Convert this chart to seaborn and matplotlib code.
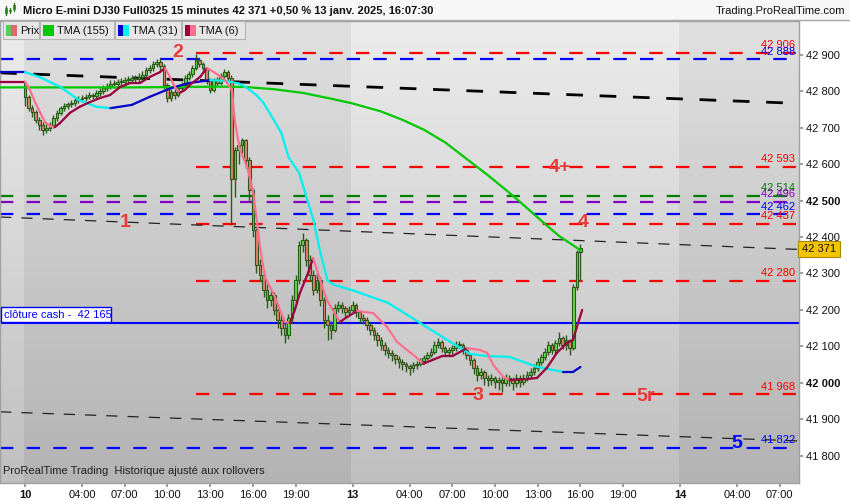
import matplotlib
matplotlib.use("Agg")
import matplotlib.pyplot as plt
from matplotlib.collections import LineCollection
from matplotlib.patches import Rectangle
import numpy as np
import pandas as pd
import seaborn as sns

# ---------------- data ----------------
# 15 min bars, bar 0 = 10 janv 00:00, bar 92 = 13 janv 00:00
opens = [
    42823, 42785, 42754, 42743, 42721, 42708, 42694, 42700, 42708, 42727,
    42741, 42754, 42760, 42765, 42768, 42776, 42779, 42782, 42785, 42790,
    42787, 42796, 42801, 42809, 42815, 42820, 42820, 42826, 42826, 42831,
    42831, 42837, 42834, 42840, 42845, 42859, 42864, 42875, 42881, 42870,
    42818, 42782, 42798, 42790, 42809, 42818, 42837, 42848, 42864, 42886,
    42875, 42864, 42831, 42804, 42831, 42823, 42842, 42853, 42837, 42560,
    42639, 42653, 42667, 42612, 42529, 42419, 42323, 42296, 42255, 42227,
    42241, 42200, 42172, 42150, 42131, 42178, 42227, 42282, 42378, 42392,
    42337, 42296, 42255, 42282, 42227, 42172, 42158, 42145, 42205, 42213,
    42205, 42194, 42200, 42213, 42194, 42178, 42172, 42158, 42145, 42131,
    42117, 42104, 42090, 42082, 42075, 42065, 42058, 42050, 42045, 42040,
    42048, 42052, 42060, 42068, 42076, 42085, 42104, 42112, 42095, 42084,
    42090, 42095, 42104, 42104, 42090, 42076, 42063, 42041, 42021, 42030,
    42013, 42007, 42013, 42002, 42007, 41999, 42013, 42007, 41999, 42013,
    42002, 42013, 42021, 42030, 42041, 42057, 42071, 42084, 42104, 42090,
    42109, 42123, 42104, 42117, 42095, 42262, 42360]
closes = [
    42785, 42754, 42743, 42721, 42708, 42694, 42700, 42708, 42727, 42741,
    42754, 42760, 42765, 42768, 42776, 42779, 42782, 42785, 42790, 42787,
    42796, 42801, 42809, 42815, 42820, 42820, 42826, 42826, 42831, 42831,
    42837, 42834, 42840, 42845, 42859, 42864, 42875, 42881, 42870, 42818,
    42782, 42798, 42790, 42809, 42818, 42837, 42848, 42864, 42886, 42875,
    42864, 42831, 42804, 42831, 42823, 42842, 42853, 42837, 42560, 42639,
    42653, 42667, 42612, 42529, 42419, 42323, 42296, 42255, 42227, 42241,
    42200, 42172, 42150, 42131, 42178, 42227, 42282, 42378, 42392, 42337,
    42296, 42255, 42282, 42227, 42172, 42158, 42145, 42205, 42213, 42205,
    42194, 42200, 42213, 42194, 42178, 42172, 42158, 42145, 42131, 42117,
    42104, 42090, 42082, 42075, 42065, 42058, 42050, 42045, 42040, 42048,
    42052, 42060, 42068, 42076, 42085, 42104, 42112, 42095, 42084, 42090,
    42095, 42104, 42104, 42090, 42076, 42063, 42041, 42021, 42030, 42013,
    42007, 42013, 42002, 42007, 41999, 42013, 42007, 41999, 42013, 42002,
    42013, 42021, 42030, 42041, 42057, 42071, 42084, 42104, 42090, 42109,
    42123, 42104, 42117, 42095, 42262, 42360, 42371]
highs = [
    42826, 42790, 42762, 42748, 42730, 42715, 42712, 42716, 42734, 42748,
    42760, 42768, 42772, 42776, 42784, 42788, 42790, 42794, 42798, 42797,
    42803, 42810, 42817, 42824, 42830, 42830, 42835, 42836, 42840, 42842,
    42846, 42845, 42850, 42856, 42866, 42872, 42884, 42890, 42892, 42874,
    42824, 42806, 42808, 42816, 42826, 42845, 42856, 42872, 42903, 42892,
    42880, 42868, 42836, 42838, 42840, 42850, 42862, 42858, 42845, 42648,
    42660, 42672, 42670, 42620, 42535, 42425, 42340, 42310, 42270, 42260,
    42250, 42215, 42185, 42165, 42190, 42240, 42295, 42390, 42411, 42398,
    42350, 42310, 42300, 42290, 42235, 42185, 42170, 42215, 42225, 42222,
    42212, 42210, 42224, 42220, 42200, 42188, 42180, 42165, 42152, 42140,
    42125, 42112, 42098, 42090, 42080, 42072, 42066, 42058, 42052, 42056,
    42060, 42068, 42076, 42084, 42094, 42115, 42122, 42118, 42102, 42098,
    42104, 42115, 42114, 42110, 42096, 42082, 42068, 42048, 42040, 42036,
    42022, 42024, 42018, 42016, 42015, 42024, 42022, 42015, 42025, 42020,
    42024, 42032, 42040, 42052, 42068, 42080, 42095, 42115, 42110, 42118,
    42138, 42128, 42130, 42120, 42270, 42365, 42381]
lows = [
    42760, 42745, 42730, 42712, 42695, 42680, 42686, 42692, 42700, 42720,
    42735, 42746, 42752, 42756, 42760, 42768, 42770, 42774, 42778, 42778,
    42780, 42788, 42794, 42802, 42806, 42810, 42812, 42815, 42818, 42820,
    42822, 42825, 42826, 42832, 42838, 42850, 42856, 42866, 42860, 42808,
    42770, 42775, 42780, 42784, 42800, 42812, 42830, 42840, 42858, 42866,
    42852, 42820, 42795, 42798, 42815, 42818, 42836, 42828, 42433, 42510,
    42600, 42630, 42590, 42500, 42400, 42300, 42280, 42235, 42205, 42210,
    42185, 42150, 42130, 42110, 42120, 42165, 42215, 42270, 42360, 42320,
    42280, 42240, 42245, 42210, 42150, 42117, 42120, 42138, 42195, 42192,
    42182, 42185, 42192, 42180, 42165, 42160, 42145, 42132, 42118, 42100,
    42090, 42075, 42068, 42060, 42050, 42040, 42035, 42028, 42022, 42030,
    42038, 42045, 42052, 42062, 42070, 42080, 42096, 42085, 42072, 42075,
    42080, 42086, 42094, 42080, 42064, 42048, 42025, 42005, 42010, 41995,
    41990, 41995, 41985, 41980, 41975, 41990, 41992, 41980, 41988, 41988,
    41995, 42005, 42012, 42022, 42032, 42048, 42062, 42075, 42078, 42082,
    42100, 42092, 42090, 42075, 42090, 42255, 42282]

# moving averages (bar index, value)
tma155_bar = [-7, 0, 30, 55, 62, 70, 78, 86, 92, 100, 106, 112, 118, 124,
              130, 135, 139, 145, 150, 156]
tma155_val = [42811, 42811, 42811, 42813, 42812, 42806, 42796, 42780, 42767,
              42745, 42722, 42695, 42660, 42615, 42570, 42530, 42497, 42445,
              42403, 42364]
tma31_bar = [-7, 0, 4, 10, 15, 20, 24, 30, 35, 41, 46, 52, 56, 60, 62, 65,
             67, 70, 72, 74, 77, 81, 83, 85, 87, 92, 102, 111, 120, 125, 130,
             136, 144, 151, 154, 156]
tma31_val = [42853, 42853, 42840, 42812, 42777, 42758, 42754, 42763, 42785,
             42809, 42823, 42831, 42829, 42822, 42812, 42790, 42768, 42720,
             42686, 42620, 42576, 42447, 42356, 42280, 42268, 42254, 42219,
             42164, 42109, 42079, 42073, 42071, 42043, 42030, 42030, 42043]
tma6_bar = [-7, 0, 1.4, 2.8, 4.2, 5.6, 7, 8.4, 9.8, 12.6, 15.4, 18.3, 21.1,
            23.9, 26.7, 29.5, 32.3, 35.1, 37.9, 39.3, 40.7, 42.1, 43.5, 44.9,
            46.3, 49.2, 51.1, 53.4, 56.2, 58.1, 59, 60.4, 62.4, 64, 65.2, 66,
            67.4, 68.8, 70.2, 71.6, 73, 74.4, 75.8, 77.2, 79.5, 80.9, 82.3,
            82.9, 84.8, 87.6, 88.5, 90.4, 93.3, 97.8, 101.7, 104.5, 107.3,
            110.1, 111.8, 114.6, 117.4, 120.2, 124.2, 127.8, 129.8, 131.5,
            134.3, 136.2, 141, 143.8, 146.6, 149.4, 152.2, 153.9, 156.5]
tma6_val = [42827, 42827, 42804, 42771, 42743, 42716, 42705, 42702, 42713,
            42741, 42758, 42771, 42782, 42790, 42812, 42823, 42823, 42840,
            42853, 42864, 42840, 42812, 42796, 42804, 42818, 42840, 42864,
            42851, 42831, 42804, 42713, 42639, 42592, 42529, 42439, 42373,
            42290, 42263, 42235, 42200, 42167, 42164, 42200, 42246, 42301,
            42342, 42301, 42282, 42227, 42180, 42167, 42180, 42197, 42191,
            42153, 42112, 42090, 42068, 42052, 42063, 42074, 42074, 42095,
            42090, 42082, 42049, 42016, 42007, 42010, 42013, 42041, 42082,
            42109, 42117, 42200]

# horizontal levels
level_values = [42906, 42888, 42593, 42514, 42496, 42462, 42437, 42280, 41968, 41822]
level_colors = ["#ff0000", "#0000ff", "#ff0000", "#008000", "#8000c0",
                "#0000ff", "#ff0000", "#ff0000", "#ff0000", "#0000ff"]
level_start = [48, -7, 48, -7, -7, -7, 48, 48, 48, -7]
cash_close = 42165
last_price = 42371

# sloping trend lines (start bar, start value, end bar, end value)
trend_thick = (-7, 42851, 217.4, 42767)
trend_thin_a = (-7, 42455, 217.4, 42366)
trend_thin_b = (-7, 41920, 217.4, 41840)

# wave labels
wave_text = ["2", "1", "4+", "4", "3", "5r", "5"]
wave_bar = [43.0, 28.1, 150.3, 156.7, 127.2, 174.2, 200.0]
wave_val = [42908, 42441, 42591, 42441, 41966, 41963, 41834]
wave_color = ["#e83a3a"] * 6 + ["#0000ff"]

tick_bars = [0, 16, 28, 40, 52, 64, 76, 92, 108, 120, 132, 144, 156, 168, 184, 200, 212]
tick_text = ["10", "04:00", "07:00", "10:00", "13:00", "16:00", "19:00", "13",
             "04:00", "07:00", "10:00", "13:00", "16:00", "19:00", "14", "04:00", "07:00"]


def fmt(v):
    v = int(round(v))
    return f"{v // 1000} {v % 1000:03d}"


sns.set_theme(style="white")
plt.rcParams["font.family"] = ["Liberation Sans", "DejaVu Sans"]

fig = plt.figure(figsize=(8.5, 5), dpi=100)
fig.patch.set_facecolor("white")

XMIN, XMAX = -7.02, 217.4
YMIN, YMAX = 41724.5, 42993.4
ax = fig.add_axes([0, 17 / 500, 799 / 850, 462 / 500])

# day bands with vertical gradient
bands = [(XMIN, -0.3, True), (-0.3, 91.7, False), (91.7, 183.7, True), (183.7, XMAX, False)]
for x0, x1, light in bands:
    top, bot = (236, 191) if light else (224, 179)
    g = np.linspace(top, bot, 200) / 255.0
    img = np.stack([g, g, g], axis=-1)[:, None, :]
    ax.imshow(img, extent=(x0, x1, YMIN, YMAX), aspect="auto", origin="upper",
              interpolation="bilinear", zorder=0)

# levels
for v, c, s in zip(level_values, level_colors, level_start):
    ax.plot([s, XMAX], [v, v], color=c, lw=1.6, dashes=(6, 6), zorder=2)
    ax.annotate(fmt(v), xy=(216.3, v), xytext=(0, 5.5), textcoords="offset points",
                ha="right", va="center", color=c, fontsize=8, zorder=6)
ax.axhline(cash_close, color="#0000ff", lw=1.5, zorder=2)

# trend lines
ax.plot(trend_thick[::2], trend_thick[1::2], color="black", lw=2, dashes=(6, 6), zorder=2)
ax.plot(trend_thin_a[::2], trend_thin_a[1::2], color="#222222", lw=0.9, dashes=(9, 8), zorder=2)
ax.plot(trend_thin_b[::2], trend_thin_b[1::2], color="#222222", lw=0.9, dashes=(9, 8), zorder=2)

# candles
df = pd.DataFrame({"o": opens, "h": highs, "l": lows, "c": closes})
df["bar"] = np.arange(len(df))
edge = "#2a5a1a"
ax.vlines(df["bar"], df["l"], df["h"], color=edge, lw=1.0, zorder=3)
body_lo = df[["o", "c"]].min(axis=1)
body_h = (df["c"] - df["o"]).abs().clip(lower=2)
fills = np.where(df["c"] >= df["o"], "#5fd84a", "#e4806e")
ax.bar(df["bar"], body_h, bottom=body_lo, width=0.74, color=fills,
       edgecolor=edge, linewidth=0.8, zorder=3)


def two_color(xs, ys, up, down, lw):
    pts = np.column_stack([xs, ys])
    segs = np.stack([pts[:-1], pts[1:]], axis=1)
    cols = [up if b[1] >= a[1] else down for a, b in zip(pts[:-1], pts[1:])]
    ax.add_collection(LineCollection(segs, colors=cols, linewidths=lw, zorder=4,
                                     capstyle="round", joinstyle="round"))


ma155 = pd.DataFrame({"bar": tma155_bar, "val": tma155_val})
sns.lineplot(data=ma155, x="bar", y="val", ax=ax, color="#00c800", lw=1.6, zorder=4)
two_color(tma31_bar, tma31_val, "#0000c8", "#00f0f0", 1.6)
two_color(tma6_bar, tma6_val, "#99003d", "#ff6f91", 1.6)

for t, b, v, c in zip(wave_text, wave_bar, wave_val, wave_color):
    ax.text(b, v, t, color=c, fontsize=14, fontweight="bold", ha="center", va="center", zorder=6)

ax.text(0.004, 0.015, "ProRealTime Trading  Historique ajusté aux rollovers",
        transform=ax.transAxes, fontsize=8, color="#202020", va="bottom", zorder=6)

ax.set_xlim(XMIN, XMAX)
ax.set_ylim(YMIN, YMAX)
ax.set_xlabel("")
ax.set_ylabel("")

yt = list(range(41800, 42901, 100))
ax.yaxis.tick_right()
ax.set_yticks(yt)
ax.set_yticklabels([fmt(v) for v in yt])
for lab, v in zip(ax.get_yticklabels(), yt):
    if v in (42000, 42500):
        lab.set_fontweight("bold")
        lab.set_fontsize(9)
ax.set_xticks(tick_bars)
ax.set_xticklabels(tick_text)
for lab, t in zip(ax.get_xticklabels(), tick_text):
    if ":" not in t:
        lab.set_fontweight("bold")
        lab.set_fontsize(9)
ax.tick_params(axis="y", right=True, length=3, pad=2, labelsize=8, colors="#909090",
               labelcolor="#111111")
ax.tick_params(axis="x", bottom=True, length=3, pad=2, labelsize=8, colors="#909090",
               labelcolor="#111111")
for sp in ax.spines.values():
    sp.set_color("#a0a0a0")
    sp.set_linewidth(1)

# ---------------- overlay in pixel coordinates ----------------
ov = fig.add_axes([0, 0, 1, 1], zorder=10)
ov.set_xlim(0, 850)
ov.set_ylim(500, 0)
ov.axis("off")
ov.patch.set_alpha(0)

ov.add_patch(Rectangle((0, 0), 850, 20, fc="#f7f7f7", ec="none"))
ov.plot([0, 850], [20, 20], color="#a8a8a8", lw=1)
for xx, y0, y1 in [(6, 6, 15), (10, 8, 13), (14, 3, 11)]:
    ov.plot([xx, xx], [y0, y1], color="#2a7a1a", lw=1)
    ov.add_patch(Rectangle((xx - 1.2, y0 + 2), 2.4, (y1 - y0) - 4, fc="#5fd84a", ec="#2a7a1a", lw=0.5))
ov.text(23, 10.5, "Micro E-mini DJ30 Full0325 15 minutes " + fmt(last_price) +
        " +0,50 % 13 janv. 2025, 16:07:30",
        fontsize=8, fontweight="bold", va="center", ha="left", color="#111111")
ov.text(845, 10.5, "Trading.ProRealTime.com", fontsize=8, va="center", ha="right", color="#111111")

legend_items = [("Prix", 3, 36, ["#55cc55", "#e06a6a"]),
                ("TMA (155)", 40, 74, ["#00c800"]),
                ("TMA (31)", 115, 66, ["#0000c8", "#00f0f0"]),
                ("TMA (6)", 182, 63, ["#99003d", "#ff6f91"])]
for name, x0, w, cols in legend_items:
    ov.add_patch(Rectangle((x0, 21), w, 18, fc="#e6e6e6", ec="#b4b4b4", lw=0.8))
    sw = 11 / len(cols)
    for k, c in enumerate(cols):
        ov.add_patch(Rectangle((x0 + 3 + k * sw, 24.5), sw, 11, fc=c, ec="none"))
    ov.text(x0 + 17, 30.5, name, fontsize=8, va="center", ha="left", color="#111111")

# cash close box
ov.add_patch(Rectangle((0.5, 307), 111, 15, fc="white", ec="#0000ff", lw=1))
ov.text(4, 314.5, "clôture cash -  " + fmt(cash_close), fontsize=8, color="#0000ff",
        va="center", ha="left")

# last price box on the axis
ov.add_patch(Rectangle((798, 240.5), 42, 16, fc="#f5c400", ec="#a88a00", lw=0.8))
ov.text(819, 248.5, fmt(last_price), fontsize=8, va="center", ha="center", color="#111111")

fig.savefig("out.png", dpi=100)
